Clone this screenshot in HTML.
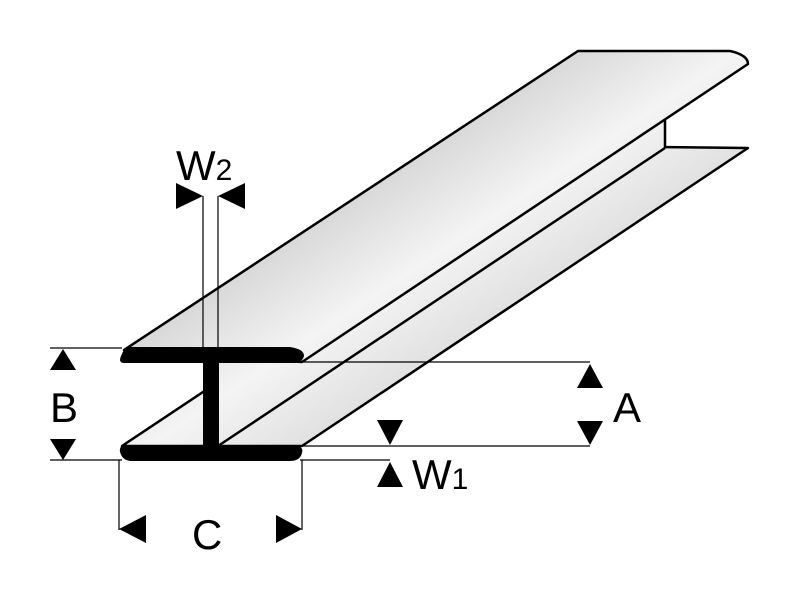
<!DOCTYPE html>
<html><head><meta charset="utf-8"><style>html,body{margin:0;padding:0;background:#fff}svg{display:block}</style></head>
<body>
<svg width="800" height="600" viewBox="0 0 800 600" xmlns="http://www.w3.org/2000/svg">
<defs>
<linearGradient id="g" gradientUnits="userSpaceOnUse" x1="300" y1="150" x2="500" y2="450">
<stop offset="0" stop-color="#c4c4c4"/><stop offset="0.45" stop-color="#f4f4f4"/><stop offset="1" stop-color="#c8c8c8"/>
</linearGradient>
</defs>
<polygon points="122,446 572,146 748,148 302,446" fill="url(#g)" stroke="#000" stroke-width="2.5" stroke-linejoin="round"/>
<polygon points="218,362 665,119 665,148 218,446" fill="url(#g)" stroke="none"/>
<line x1="665" y1="119" x2="665" y2="148" stroke="#000" stroke-width="2.5"/>
<line x1="218" y1="446" x2="665" y2="148" stroke="#000" stroke-width="2.5"/>
<rect x="203" y="355" width="16" height="98" fill="#000"/>
<path d="M124,350 L578,51 L730,51 Q748,55 748,64 L302,362 Z" fill="url(#g)" stroke="#000" stroke-width="2.5" stroke-linejoin="round"/>
<path d="M128,347 L290,347 Q304,349 304,356 Q302,363 294,363 L124,363 Q118,363 121,356 Q124,348 128,347 Z" fill="#000"/>
<path d="M124,445 L296,445 Q304,447 302,453 Q300,461 290,461 L130,461 Q122,460 120,452 Q119,446 124,445 Z" fill="#000"/>
<g stroke="#000" stroke-width="1.2" fill="none">
<line x1="50" y1="348" x2="122" y2="348"/>
<line x1="50" y1="460" x2="122" y2="460"/>
<line x1="300" y1="362" x2="590" y2="362"/>
<line x1="300" y1="446" x2="590" y2="446"/>
<line x1="300" y1="460" x2="390" y2="460"/>
<line x1="203" y1="196" x2="203" y2="348"/>
<line x1="218" y1="196" x2="218" y2="348"/>
<line x1="119" y1="460" x2="119" y2="530"/>
<line x1="302" y1="460" x2="302" y2="530"/>
</g>
<g fill="#000">
<polygon points="63,349 50,370 76,370"/>
<polygon points="63,460 50,439 76,439"/>
<polygon points="590,364 577,388 603,388"/>
<polygon points="590,445 577,421 603,421"/>
<polygon points="390,445 377,420 403,420"/>
<polygon points="390,462 377,487 403,487"/>
<polygon points="203,196 176,183 176,209"/>
<polygon points="218,196 245,183 245,209"/>
<polygon points="119,529 146,515 146,543"/>
<polygon points="302,529 276,515 276,543"/>
</g>
<g font-family="'Liberation Sans',sans-serif" fill="#000">
<text x="50" y="422" font-size="42">B</text>
<text x="613" y="422" font-size="42">A</text>
<text x="192" y="549" font-size="42">C</text>
<text x="176" y="180" font-size="42">W<tspan font-size="30">2</tspan></text>
<text x="412" y="489" font-size="42">W<tspan font-size="30">1</tspan></text>
</g>
</svg>
</body></html>
